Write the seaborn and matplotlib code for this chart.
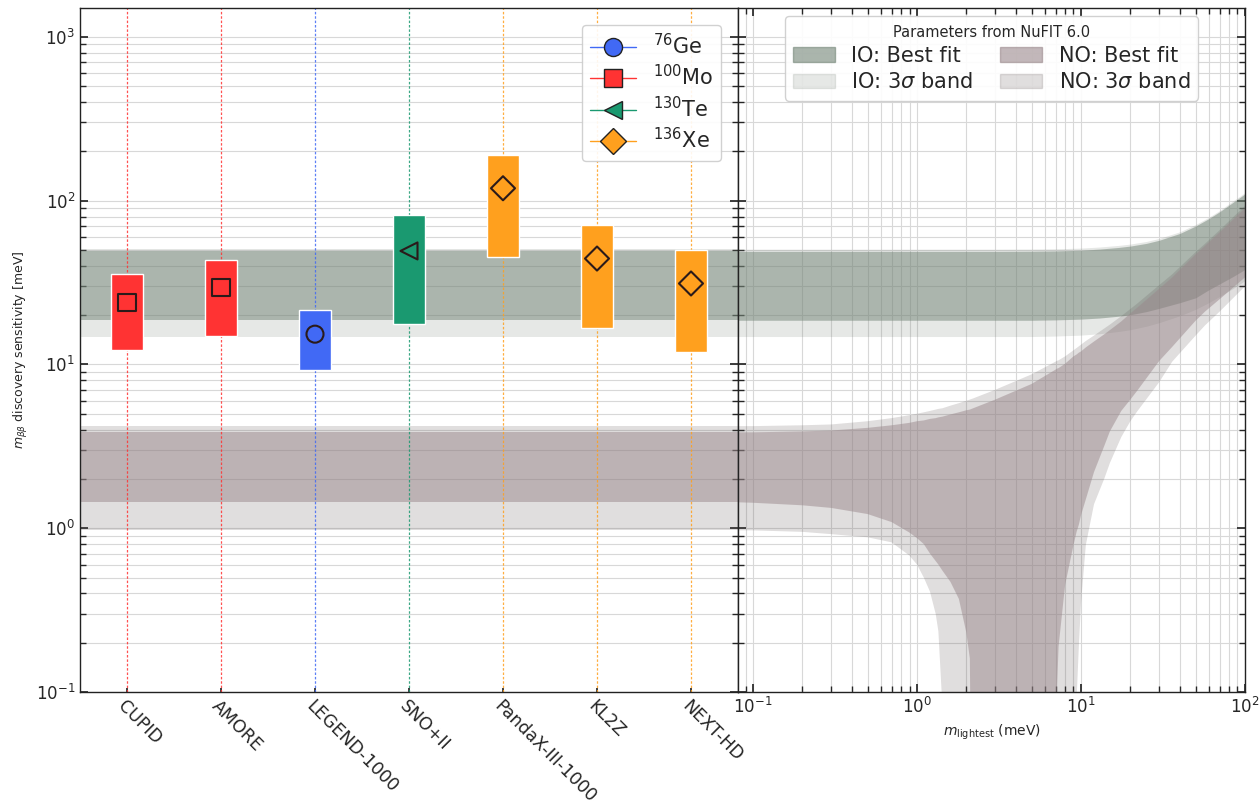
import matplotlib

matplotlib.use("Agg")
import matplotlib.pyplot as plt  # noqa: E402
from matplotlib.lines import Line2D
from matplotlib.patches import Patch
import numpy as np
import pandas as pd
import seaborn as sns

# --- experiments (left panel) ---
experiments = ["CUPID", "AMORE", "LEGEND-1000", "SNO+II", "PandaX-III-1000", "KL2Z", "NEXT-HD"]
isotopes = ["Mo", "Mo", "Ge", "Te", "Xe", "Xe", "Xe"]
sens_low = [12.2, 14.9, 9.2, 17.6, 45.4, 16.7, 11.9]
sens_high = [35.4, 43.3, 21.6, 81.3, 191.0, 70.7, 49.8]
sens_mid = [23.9, 29.4, 15.3, 49.3, 119.0, 44.3, 31.2]

iso_order = ["Ge", "Mo", "Te", "Xe"]
iso_labels = ["$^{76}$Ge", "$^{100}$Mo", "$^{130}$Te", "$^{136}$Xe"]
iso_colors = {"Ge": "#4169f5", "Mo": "#ff3333", "Te": "#1a9970", "Xe": "#ffa01e"}
iso_markers = {"Ge": "o", "Mo": "s", "Te": "<", "Xe": "D"}

# --- inverted ordering band (right panel) ---
m_io = [0.08, 1, 3, 5, 7, 10, 13, 17, 20, 25, 30, 40, 50, 60, 70, 85, 100]
io_best_hi = [49, 49, 49, 49.1, 49.3, 49.8, 50.6, 51.8, 52.8, 54.8, 57.3, 63, 70, 77.5, 85.5, 98, 110]
io_best_lo = [18.6, 18.6, 18.6, 18.6, 18.7, 18.9, 19.2, 19.7, 20.1, 21, 22, 23.8, 25.5, 28.5, 31, 34.5, 38]
io_3s_hi = [50.5, 50.5, 50.5, 50.6, 50.8, 51.3, 52.1, 53.3, 54.3, 56.3, 58.8, 64.5, 71.5, 79, 87, 100, 112]
io_3s_lo = [14.8, 14.8, 14.8, 14.8, 14.9, 15.1, 15.4, 15.9, 16.3, 17.1, 18, 19.8, 21.7, 23.8, 26, 29.2, 32.5]

# --- normal ordering band (right panel) ---
m_no = [0.08, 0.1, 0.2, 0.3, 0.5, 0.7, 0.9, 1.0, 1.1, 1.2, 1.3, 1.35, 1.43, 1.6, 1.8, 2.0, 2.1, 2.2,
        3.0, 5.0, 7.0, 7.1, 7.3, 8.0, 9.0, 9.4, 9.7, 10, 10.7, 12, 13.9, 15, 17.6, 20, 22, 30, 36,
        50, 57, 70, 100]
no_best_hi = [3.85, 3.85, 3.9, 3.95, 4.1, 4.25, 4.4, 4.5, 4.55, 4.65, 4.7, 4.75, 4.8, 4.95, 5.1, 5.25,
              5.3, 5.4, 6.1, 7.6, 9.3, 9.4, 9.5, 10.1, 11.2, 11.5, 11.8, 12, 12.7, 13.8, 15.3, 16.2,
              18.3, 20.5, 22.2, 29, 34, 47, 53, 64, 90]
no_best_lo = [1.44, 1.43, 1.38, 1.33, 1.22, 1.09, 0.94, 0.87, 0.8, 0.7, 0.63, 0.6, 0.55, 0.47, 0.37,
              0.23, 0.16, 0.001, 0.001, 0.001, 0.001, 0.09, 0.19, 0.45, 0.79, 0.95, 1.05, 1.2, 1.5,
              2.2, 3.2, 3.9, 5.2, 6.1, 6.9, 10.5, 12.8, 18.5, 21, 25, 34]
no_3s_hi = [4.2, 4.2, 4.25, 4.3, 4.5, 4.7, 4.9, 5.0, 5.1, 5.2, 5.3, 5.35, 5.4, 5.6, 5.8, 6.0, 6.1,
            6.2, 7.0, 8.7, 10.4, 10.5, 10.6, 11.2, 12.2, 12.6, 12.9, 13.2, 13.9, 15, 16.6, 17.5,
            19.7, 21.8, 23.5, 30.5, 35.5, 48.5, 54.5, 66, 93]
no_3s_lo = [0.97, 0.97, 0.95, 0.92, 0.88, 0.82, 0.68, 0.6, 0.5, 0.41, 0.3, 0.235, 0.08, 0.001, 0.001,
            0.001, 0.001, 0.001, 0.001, 0.001, 0.001, 0.001, 0.001, 0.001, 0.001, 0.09, 0.19, 0.35,
            0.79, 1.4, 2.02, 2.5, 3.6, 4.5, 5.16, 7.8, 10.4, 15, 17.3, 21, 30]

IO_BEST = ("#728476", 0.5)
IO_3S = ("#828c82", 0.2)
NO_BEST = ("#9a888c", 0.5)
NO_3S = ("#645a5a", 0.2)

sns.set_theme(style="ticks")
plt.rcParams["font.family"] = ["DejaVu Sans"]
plt.rcParams["mathtext.fontset"] = "dejavusans"

fig = plt.figure(figsize=(12.6, 8.06), dpi=100)
ax = fig.add_axes([80 / 1260, 114 / 806, 658 / 1260, 684 / 806])
ax2 = fig.add_axes([738 / 1260, 114 / 806, 507 / 1260, 684 / 806], sharey=ax)

ylim = (0.1, 1500)
grid_kw = dict(color="#d8d8d8", linewidth=0.8, zorder=0)

# ---------- left panel ----------
ax.set_yscale("log")
ax.set_ylim(*ylim)
ax.set_xlim(-0.5, len(experiments) - 0.5)
ax.grid(True, which="both", axis="y", **grid_kw)
ax.set_axisbelow(True)

ax.axhspan(io_3s_lo[0], io_3s_hi[0], color=IO_3S[0], alpha=IO_3S[1], lw=0, zorder=1)
ax.axhspan(io_best_lo[0], io_best_hi[0], color=IO_BEST[0], alpha=IO_BEST[1], lw=0, zorder=1)
ax.axhspan(no_3s_lo[0], no_3s_hi[0], color=NO_3S[0], alpha=NO_3S[1], lw=0, zorder=1)
ax.axhspan(no_best_lo[0], no_best_hi[0], color=NO_BEST[0], alpha=NO_BEST[1], lw=0, zorder=1)

df = pd.DataFrame({"exp": experiments, "iso": isotopes, "lo": sens_low,
                   "hi": sens_high, "mid": sens_mid})
df["pos"] = np.arange(len(df))
bar_colors = [iso_colors[i] for i in df["iso"]]

for pos, c in zip(df["pos"], bar_colors):
    ax.axvline(pos, color=c, lw=0.9, ls=(0, (2, 1.5)), alpha=0.85, zorder=2)

ax.bar(df["pos"], df["hi"] - df["lo"], bottom=df["lo"], width=0.33,
       color=bar_colors, zorder=3)
sns.scatterplot(data=df, x="pos", y="mid", hue="iso", style="iso", palette=iso_colors,
                markers=iso_markers, s=150, edgecolor="#2a1a1a", linewidth=1.5,
                legend=False, zorder=4, ax=ax)

ax.set_xticks(df["pos"])
ax.set_xticklabels(experiments, rotation=-45, ha="left", rotation_mode="anchor", fontsize=12.5)
ax.set_xlabel("")
ax.set_ylabel(r"$m_{\beta\beta}$ discovery sensitivity [meV]", fontsize=9)
ax.tick_params(axis="y", which="both", direction="in", right=True, labelsize=12)
ax.tick_params(axis="x", direction="in", length=3)

handles = [Line2D([], [], color=iso_colors[i], marker=iso_markers[i], markersize=13,
                  markerfacecolor=iso_colors[i], markeredgecolor="#222222", lw=1)
           for i in iso_order]
ax.legend(handles, iso_labels, loc="upper right", fontsize=15, handlelength=2.2,
          borderaxespad=0.8, labelspacing=0.3, framealpha=0.9)

# ---------- right panel ----------
ax2.set_xscale("log")
ax2.set_xlim(0.081, 100)
ax2.grid(True, which="both", **grid_kw)
ax2.set_axisbelow(True)

ax2.fill_between(m_io, io_3s_lo, io_3s_hi, color=IO_3S[0], alpha=IO_3S[1], lw=0, zorder=1)
ax2.fill_between(m_io, io_best_lo, io_best_hi, color=IO_BEST[0], alpha=IO_BEST[1], lw=0, zorder=1)
ax2.fill_between(m_no, no_3s_lo, no_3s_hi, color=NO_3S[0], alpha=NO_3S[1], lw=0, zorder=2)
ax2.fill_between(m_no, no_best_lo, no_best_hi, color=NO_BEST[0], alpha=NO_BEST[1], lw=0, zorder=2)

ax2.set_xlabel(r"$m_{\rm lightest}$ (meV)", fontsize=10)
ax2.tick_params(axis="both", which="both", direction="in", top=True, right=True, labelsize=12)
ax2.tick_params(axis="y", labelleft=False)

band_handles = [Patch(color=IO_BEST[0], alpha=0.6), Patch(color=IO_3S[0], alpha=IO_3S[1]),
                Patch(color=NO_BEST[0], alpha=0.6), Patch(color=NO_3S[0], alpha=IO_3S[1])]
band_labels = ["IO: Best fit", r"IO: 3$\sigma$ band", "NO: Best fit", r"NO: 3$\sigma$ band"]
ax2.legend(band_handles, band_labels, ncol=2, loc="upper center", fontsize=15,
           title="Parameters from NuFIT 6.0", title_fontsize=10.5, borderaxespad=0.4,
           labelspacing=0.3, columnspacing=1.3, handlelength=2.0, framealpha=0.9)

for a in (ax, ax2):
    for s in a.spines.values():
        s.set_color("#222222")
        s.set_linewidth(1.0)

fig.savefig("out.png", dpi=100, facecolor="white")
